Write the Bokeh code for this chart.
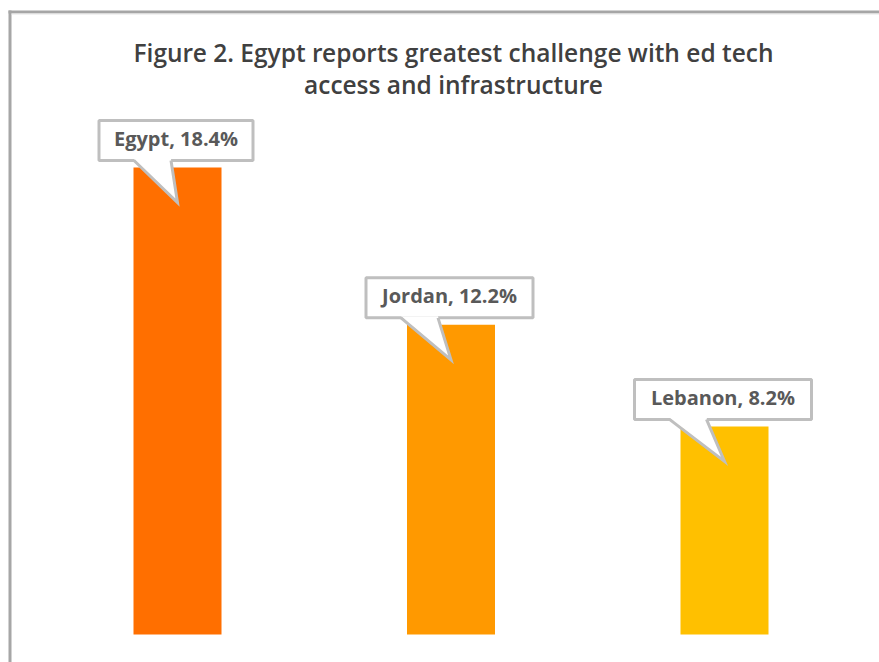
from bokeh.plotting import figure
from bokeh.models import Range1d
from bokeh.core.properties import value
from bokeh.embed import file_html
from bokeh.resources import INLINE

# ---- data ----
countries = ["Egypt", "Jordan", "Lebanon"]
shares = [18.4, 12.2, 8.2]
bar_colors = ["#FF6F00", "#FF9900", "#FFC000"]
title_lines = ["Figure 2. Egypt reports greatest challenge with ed tech",
               "access and infrastructure"]

# ---- styling / layout (pixels) ----
box_widths_px = [154, 167, 177]
W, H = 879, 662
X_PX = 273.5      # px per category step
Y_PX = 25.38      # px per percentage point
X0_PX = 177       # px position of first category centre
Y0_PX = 634       # px position (from top) of zero line

x_start = -X0_PX / X_PX
x_end = (W - X0_PX) / X_PX
y_start = -(H - Y0_PX) / Y_PX
y_end = Y0_PX / Y_PX


def fx(px):
    return x_start + px / X_PX


def fy(py):
    return y_end - py / Y_PX


p = figure(width=W, height=H, x_range=Range1d(x_start, x_end),
           y_range=Range1d(y_start, y_end), output_backend="svg",
           toolbar_location=None, min_border=0,
           x_axis_location=None, y_axis_location=None)
p.grid.visible = False
p.outline_line_color = None
p.background_fill_color = "white"
p.border_fill_color = "white"

# chart border (left & top visible) drawn as filled strips
p.quad(left=[fx(8), fx(8), fx(11)], right=[fx(11), fx(W + 2), fx(W + 2)],
       top=[fy(10), fy(10), fy(13)], bottom=[fy(H + 2), fy(13), fy(14)],
       fill_color=["#a6a6a6", "#a6a6a6", "#e6e6e6"], line_color=None)

# title
for k, t in enumerate(title_lines):
    p.text(x=[fx(453)], y=[fy(52 + 32 * k)], text=[t],
           text_font=value("Open Sans SemiBold"), text_font_style="normal",
           text_font_size="24.5px", text_color="#404040",
           text_align="center", text_baseline="alphabetic")

# bars
idx = list(range(len(countries)))
p.vbar(x=idx, top=shares, bottom=0, width=88 / X_PX, fill_color=bar_colors,
       line_color=None)

# callouts
line_c = "#bfbfbf"
for i, (c, v) in enumerate(zip(countries, shares)):
    w = box_widths_px[i]
    cx = i - 1.5 / X_PX
    yb = v + 7 / Y_PX               # box bottom
    p.rect(x=[cx], y=[v + 27 / Y_PX], width=[w], height=[40],
           width_units="screen", height_units="screen",
           fill_color="white", line_color=line_c, line_width=3)
    xl = cx + (-w / 2 + 35) / X_PX
    xr = cx + (-w / 2 + 72) / X_PX
    tx = i
    ty = v - 35 / Y_PX
    p.patch(x=[xl, xr, tx], y=[yb + 1.6 / Y_PX, yb + 1.6 / Y_PX, ty],
            fill_color="white", line_color=None)
    p.line(x=[xl, tx, xr], y=[yb, ty, yb], line_color=line_c, line_width=3,
           line_join="miter")
    p.text(x=[cx], y=[v + 29 / Y_PX], text=[f"{c}, {v}%"],
           text_font=value("Open Sans"), text_font_style="bold",
           text_font_size="20px", text_color="#595959",
           text_align="center", text_baseline="alphabetic")

open("out.html", "w").write(file_html(p, INLINE))
